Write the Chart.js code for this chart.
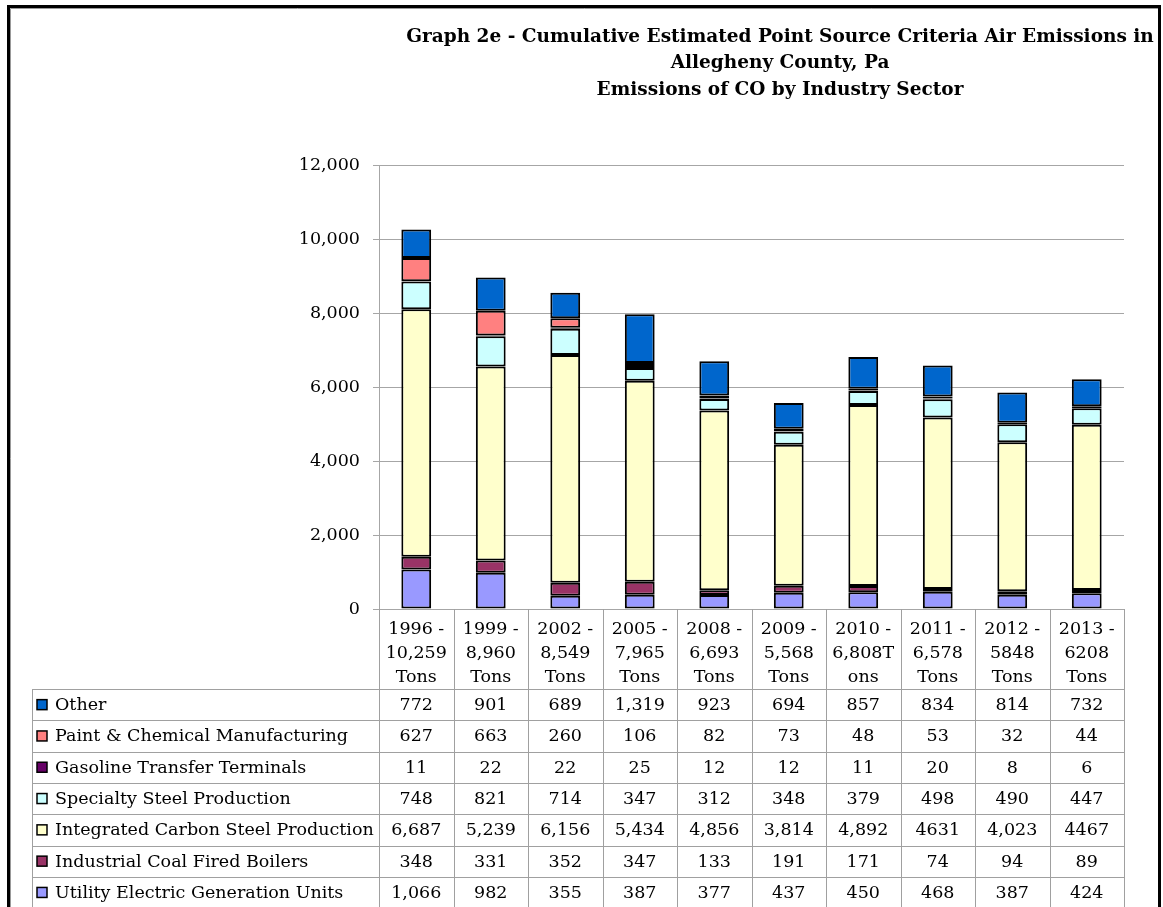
<!DOCTYPE html>
<html>
<head>
<meta charset="utf-8">
<script src="https://cdn.jsdelivr.net/npm/chart.js@4"></script>
<style>
  html, body { margin: 0; padding: 0; background: #fff; }
  #wrap { position: relative; width: 1163px; height: 907px; }
</style>
</head>
<body>
<div id="wrap"><canvas id="coChart"></canvas></div>
<script>
// categories (x axis labels, split in lines as in the original)
const categories = [
    ['1996 -', '10,259', 'Tons'],
    ['1999 -', '8,960', 'Tons'],
    ['2002 -', '8,549', 'Tons'],
    ['2005 -', '7,965', 'Tons'],
    ['2008 -', '6,693', 'Tons'],
    ['2009 -', '5,568', 'Tons'],
    ['2010 -', '6,808T', 'ons'],
    ['2011 -', '6,578', 'Tons'],
    ['2012 -', '5848', 'Tons'],
    ['2013 -', '6208', 'Tons']
];

// series, bottom of the stack first
const utility     = [1066, 982, 355, 387, 377, 437, 450, 468, 387, 424];
const coalBoilers = [348, 331, 352, 347, 133, 191, 171, 74, 94, 89];
const carbonSteel = [6687, 5239, 6156, 5434, 4856, 3814, 4892, 4631, 4023, 4467];
const specialty   = [748, 821, 714, 347, 312, 348, 379, 498, 490, 447];
const gasoline    = [11, 22, 22, 25, 12, 12, 11, 20, 8, 6];
const paintChem   = [627, 663, 260, 106, 82, 73, 48, 53, 32, 44];
const other       = [772, 901, 689, 1319, 923, 694, 857, 834, 814, 732];

const yTicks = [0, 2000, 4000, 6000, 8000, 10000, 12000];

// cells that were typed without a thousands separator in the source table
const plainCells = { 'Integrated Carbon Steel Production': [7, 9] };

const titleLines = [
    'Graph 2e - Cumulative Estimated Point Source Criteria Air Emissions in',
    'Allegheny County, Pa',
    'Emissions of CO by Industry Sector'
];

const FONT = "'DejaVu Serif', serif";
const FS = 17.5;
Chart.defaults.font.family = FONT;
Chart.defaults.font.size = FS;
Chart.defaults.color = '#000';

const series = [
    { label: 'Utility Electric Generation Units', data: utility, color: '#9999FF' },
    { label: 'Industrial Coal Fired Boilers', data: coalBoilers, color: '#993366' },
    { label: 'Integrated Carbon Steel Production', data: carbonSteel, color: '#FFFFCC' },
    { label: 'Specialty Steel Production', data: specialty, color: '#CCFFFF' },
    { label: 'Gasoline Transfer Terminals', data: gasoline, color: '#660066' },
    { label: 'Paint & Chemical Manufacturing', data: paintChem, color: '#FF8080' },
    { label: 'Other', data: other, color: '#0066CC' }
];

const fmt = (label, i, v) => {
    const plain = plainCells[label];
    if (plain && plain.includes(i)) return String(v);
    return v.toLocaleString('en-US');
};

// title, frame and the data table under the plot
const decor = {
    id: 'decor',
    afterDraw(chart) {
        const ctx = chart.ctx;
        const xs = chart.scales.x;
        const area = chart.chartArea;
        const n = categories.length;
        const colW = xs.width / n;
        const tableTop = area.bottom + 80;
        const rowH = 31.3;
        const tableLeft = 32;
        const tableBottom = tableTop + 7 * rowH;

        ctx.save();
        // title
        ctx.fillStyle = '#000';
        ctx.textAlign = 'center';
        ctx.textBaseline = 'middle';
        ctx.font = 'bold 18.5px ' + FONT;
        titleLines.forEach((t, i) => ctx.fillText(t, 780, 37 + i * 26.5));

        // table grid
        ctx.strokeStyle = '#a0a0a0';
        ctx.lineWidth = 1;
        ctx.beginPath();
        for (let i = 0; i <= n; i++) {
            const x = Math.round(xs.left + i * colW) + 0.5;
            ctx.moveTo(x, area.bottom);
            ctx.lineTo(x, tableBottom);
        }
        ctx.moveTo(tableLeft + 0.5, tableTop);
        ctx.lineTo(tableLeft + 0.5, tableBottom);
        for (let r = 0; r <= 7; r++) {
            const y = Math.round(tableTop + r * rowH) + 0.5;
            ctx.moveTo(tableLeft, y);
            ctx.lineTo(xs.right, y);
        }
        ctx.stroke();

        // rows: top series first
        const rows = series.slice().reverse();
        ctx.font = FS + 'px ' + FONT;
        rows.forEach((s, r) => {
            const cy = tableTop + r * rowH + rowH / 2;
            ctx.fillStyle = s.color;
            ctx.fillRect(37, cy - 5, 10, 10);
            ctx.strokeStyle = '#000';
            ctx.lineWidth = 1.5;
            ctx.strokeRect(37, cy - 5, 10, 10);
            ctx.fillStyle = '#000';
            ctx.textAlign = 'left';
            ctx.fillText(s.label, 55, cy + 1);
            ctx.textAlign = 'center';
            s.data.forEach((v, i) => {
                ctx.fillText(fmt(s.label, i, v), xs.getPixelForValue(i), cy + 1);
            });
        });

        // outer frame
        ctx.strokeStyle = '#000';
        ctx.lineWidth = 3;
        ctx.strokeRect(8.5, 6.5, 1151, 930);
        ctx.strokeStyle = '#999';
        ctx.lineWidth = 1;
        ctx.beginPath();
        ctx.moveTo(10.5, 920);
        ctx.lineTo(10.5, 8.5);
        ctx.lineTo(1158, 8.5);
        ctx.stroke();
        ctx.restore();
    }
};

new Chart(document.getElementById('coChart'), {
    type: 'bar',
    data: {
        labels: categories,
        datasets: series.map(s => ({
            label: s.label,
            data: s.data,
            backgroundColor: s.color,
            borderColor: '#000',
            borderWidth: 2,
            borderSkipped: false,
            categoryPercentage: 1,
            barPercentage: 0.4
        }))
    },
    options: {
        responsive: true,
        maintainAspectRatio: false,
        animation: false,
        layout: { padding: { left: 0, top: 165, right: 39, bottom: 218 } },
        plugins: {
            legend: { display: false },
            title: { display: false },
            tooltip: { enabled: false }
        },
        scales: {
            x: {
                stacked: true,
                grid: { display: false, offset: true },
                border: { display: false },
                ticks: {
                    padding: 0,
                    maxRotation: 0,
                    autoSkip: false,
                    font: { size: FS, lineHeight: 24 / FS }
                },
                afterFit(scale) { scale.height = 80; }
            },
            y: {
                stacked: true,
                min: yTicks[0],
                max: yTicks[yTicks.length - 1],
                afterBuildTicks(scale) { scale.ticks = yTicks.map(v => ({ value: v })); },
                grid: { color: '#a6a6a6', tickLength: 6 },
                border: { color: '#a6a6a6' },
                ticks: {
                    padding: 13,
                    callback: v => v.toLocaleString('en-US')
                },
                afterFit(scale) { scale.width = 379; }
            }
        }
    },
    plugins: [decor]
});
</script>
</body>
</html>
